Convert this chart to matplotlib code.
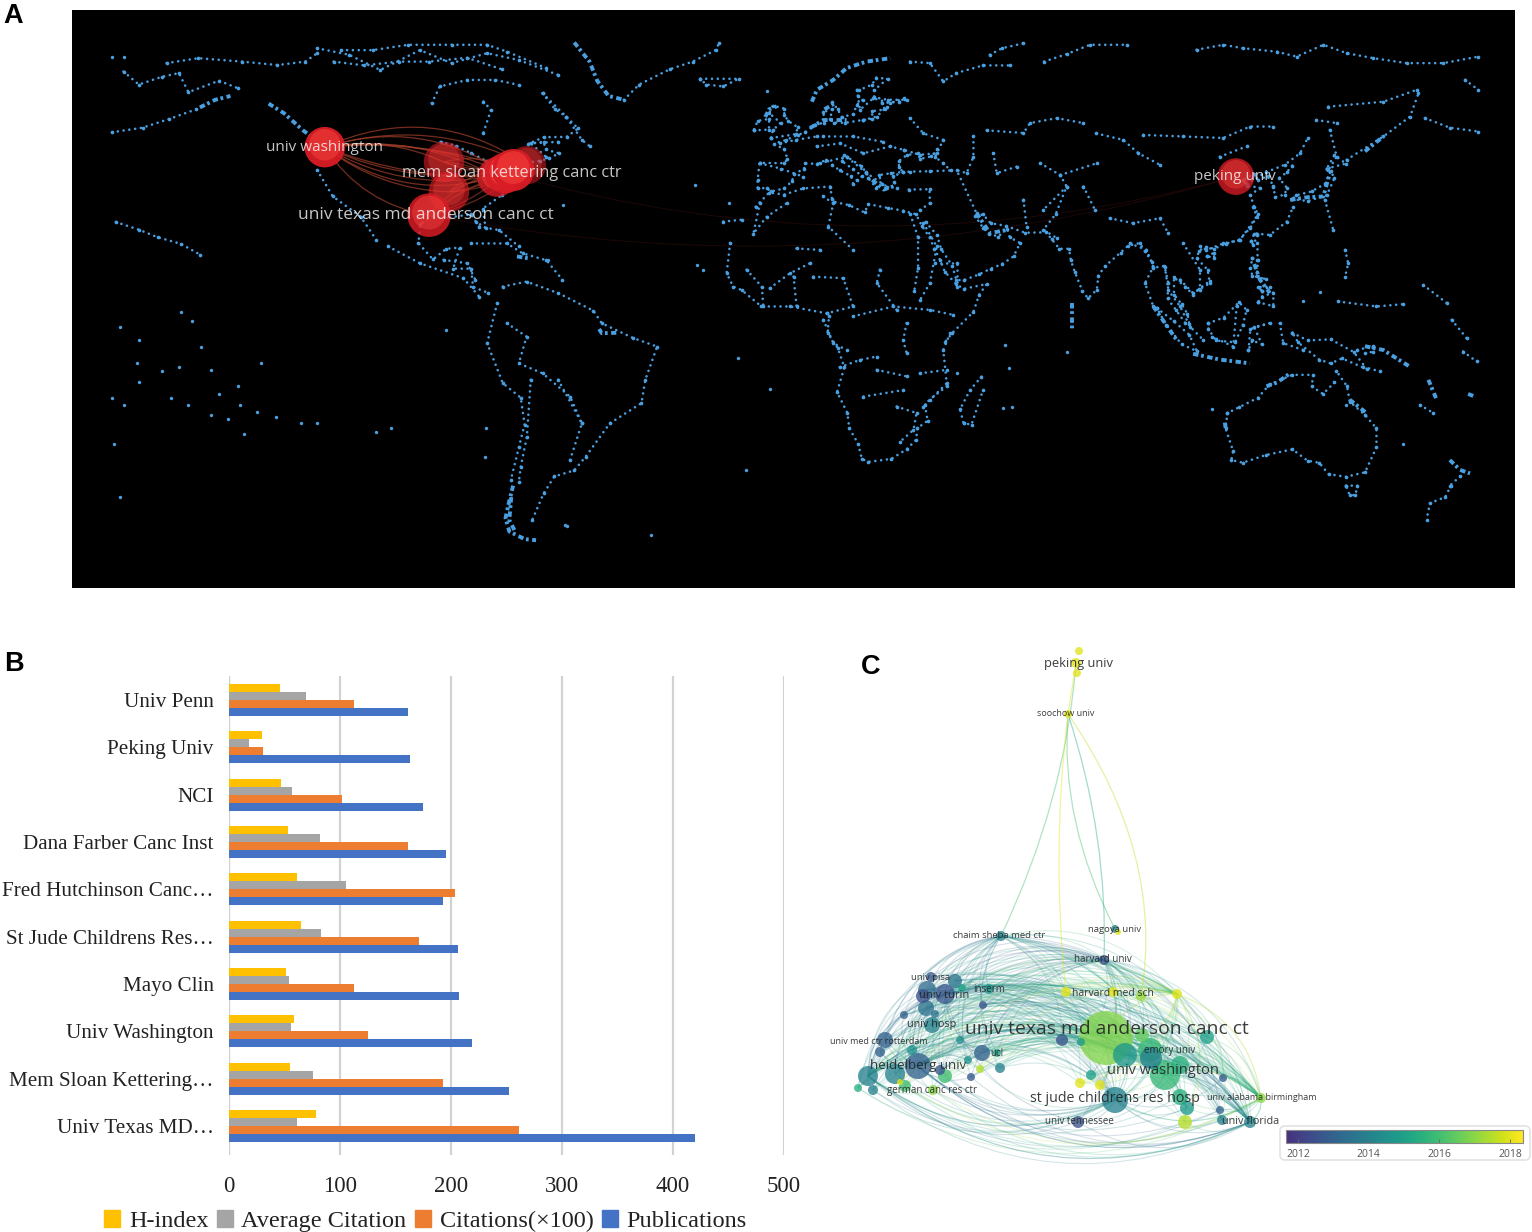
import numpy as np
import matplotlib
matplotlib.use("Agg")
import matplotlib.pyplot as plt
from matplotlib.patches import Circle, PathPatch, Rectangle, FancyBboxPatch
from matplotlib.path import Path
from matplotlib.cm import ScalarMappable
from matplotlib.colors import Normalize, LinearSegmentedColormap

W, H = 1532, 1232

# ---------- panel B data ----------
institutions = ["Univ Texas MD…", "Mem Sloan Kettering…", "Univ Washington", "Mayo Clin",
                "St Jude Childrens Res…", "Fred Hutchinson Canc…", "Dana Farber Canc Inst",
                "NCI", "Peking Univ", "Univ Penn"]
publications = [420, 252, 219, 207.5, 206.5, 193, 195.5, 174.5, 163, 161]
citations = [261, 193, 125, 113, 171, 204, 161, 102, 31, 113]
avg_citation = [61, 76, 56, 54, 83, 105.5, 82, 57, 18, 69.5]
h_index = [78, 55, 59, 51, 65, 61, 53, 46.5, 29.5, 45.5]

# ---------- panel A data (lon, lat) ----------
coast_north_america = [(-65.3,61.7),(-62,57.5),(-59.1,55.6),(-56,52.5),(-59,50.3),(-65,50.2),(-69,48.5),(-65,49),(-64.5,47),(-61,46),(-63.5,44.7),(-66,44),(-70,43.5),(-74,40.7),(-76,35),(-81,31.5),(-80.2,26.5),(-82.7,28),(-84,30),(-90,29.2),(-94,29.5),(-97.3,27.5),(-97.8,22.5),(-94,18.2),(-90.5,21),(-87,21.3),(-88.7,15.8),(-84,15.8),(-83.5,11),(-79.6,9.5)]
coast_south_east = [(-75.7,11.1),(-69.5,12.4),(-61.2,9.4),(-52,4.8),(-49.8,1.5),(-41.5,-2.4),(-35.3,-4.6),(-38.4,-13.3),(-39.4,-19.4),(-47.7,-24.7),(-54,-33.4),(-57,-37),(-62.2,-38.6),(-65,-43),(-68,-50)]
coast_south_west = [(-77.2,6.7),(-79.8,-3.7),(-75.7,-14.2),(-71,-18),(-70,-25),(-71.5,-31),(-73.6,-39.5)]
coast_europe = [(10.5,59.3),(12,57.5),(13,55.5),(16,56.2),(17,58.7),(18.5,60),(17.3,61),(17.5,62.5),(21,64),(22,65.8),(25,65.5),(21.5,62.5),(21.5,60.7),(25,60),(30,60),(28,59.5),(23.5,59.2),(24.3,57.5),(21,57),(21,55),(18.5,54.7),(14,54),(11,54),(10,55),(10.5,57.5),(8.2,56.8),(8.5,54),(6,53.5),(3.5,51.5),(1.5,50.8),(-1.5,49.5),(-4.7,48.5),(-2,47),(-1.2,44.5),(-2,43.4),(-8.5,43.5),(-9,39),(-9,37),(-6.5,36.8),(-5.5,36),(-2,36.8),(0,38.7),(0.5,40.5),(3.2,42),(3.5,43.4),(6.5,43.2),(9,44.3),(10.5,43),(12.5,41.5),(15.5,40),(16,38),(17,39),(18.4,40),(16,41.8),(13,44),(13.5,45.6),(14.5,45),(18,42.7),(19.5,41),(20,39.5),(22,37),(23.5,38),(22.8,40.3),(26,40.8),(29,41.1),(28,42.5),(28,44),(30,45.5),(33,46),(33.5,44.5),(36.5,45.2),(38,47),(37.5,45),(39.5,43.5),(41.5,41.5),(36,41.3),(31,41.2),(29,41),(26.5,40),(26.8,38.5),(27.5,37)]
coast_africa_n = [(-9.5,32),(-6,35.7),(-2,35.2),(3,36.8),(10,37.3),(10.5,34),(11,33.3),(15,32.4),(19,30.5),(20,32.7),(25,31.7),(29,31),(32.5,30),(34,27),(36,24),(37.3,21),(38.8,18),(40,15),(43,11.7),(45,10.5),(51,11.8),(49,9),(47.5,4.5),(42,-1),(40,-3.5)]
coast_africa_sw = [(40.5,-15),(36,-18.5),(34.8,-20),(35.5,-24),(32.8,-26),(32.5,-29),(30,-31.5),(26,-34),(20,-34.8),(18.3,-34),(17.3,-30),(15,-26),(14.5,-22),(11.8,-16.5),(13.7,-10),(12,-5),(9.3,-1),(9.7,3.5)]
coast_asia_south = [(35,28),(38,24.5),(39,21),(42,16.5),(43,12.8),(45,12.8),(49,14.3),(52,15.8),(55,17),(58,19),(59.7,22.5),(57,24),(56.3,26.3),(54,24.2),(51.5,25),(50,26.5),(48,29.5),(50,30),(52,27.7),(56,27),(61,25.2),(66.5,25.3),(68,23.5),(70,21),(72.5,21),(73,18),(74,15),(76,10),(77.5,8),(79.8,10.3),(80.2,14),(82,16.5),(86,20),(88,21.8),(91,22.5),(92.3,20.5),(94.3,17.5),(94.5,16),(97.5,16.5),(98.5,12),(98.3,8),(100.5,5),(103,1.5),(104,1.4),(103.5,4),(102,6.5),(100,9),(100,13.5),(103,11),(105,9),(106.5,10.5),(109.3,12.5),(108.8,15.5),(106,18.5),(106.5,20.5),(108.5,21.5),(110.5,21),(113.5,22.3),(117,23.3),(120,26.5),(122,30),(121,32),(120,35),(122.5,37),(119,37.5),(118,39),(121,40.5),(122,39),(124.5,40),(126,37.5)]
coast_borneo = [(109,1.5),(113,3),(117,7),(119,5),(118,1),(116,-3.5),(111,-3),(109,0),(109,1.5)]
coast_sumatra = [(95.5,5.5),(100,2),(104,-1.5),(106,-5.8),(102,-4),(98,1),(95.5,5.5)]
coast_sulawesi = [(119.5,-5.5),(120,0),(125,1.5),(121,0.5),(123,-4),(120.5,-3),(119.5,-5.5)]
coast_new_guinea = [(131,-1),(135,-3),(141,-2.7),(147,-6),(150.5,-10.5),(144,-7.7),(141,-9),(138,-8),(132.5,-3.5),(131,-1)]
coast_new_britain = [(148,-5.5),(152,-4.5),(152,-6),(150,-6.2)]
coast_luzon = [(120.5,18.5),(122,18),(121.7,14),(124,13),(120.5,14),(120,16),(120.5,18.5)]
coast_mindanao = [(122,7),(126,6),(126,9.5),(123,8.5),(122,7)]
coast_visayas = [(123,10),(125,11),(122,11),(123,10)]
coast_honshu = [(130.9,34),(135,33.5),(140,35),(142,39.5),(141,41.3),(139.5,38),(136,36),(132,35),(130.9,34)]
coast_hokkaido = [(140,42),(145,43.3),(142,45.5),(140,42)]
coast_taiwan = [(120.2,23),(121,25),(121.8,24.5),(120.8,22),(120.2,23)]
coast_hainan = [(108.7,19),(110.5,20),(110.5,18.7),(108.7,19)]
chain_andes = [(-68.4,-13.3),(-69.4,-28.2),(-71,-36),(-71.5,-40)]
chain_sa_interior = [(-74.6,1.5),(-69.5,-2),(-71.5,-9),(-65.3,-11.6),(-58.1,-17.7),(-55,-24.7),(-58.1,-34.3)]
chain_sa_mid = [(-61.2,-13.3),(-55,-24.7)]
chain_arctic_a = [(-124.3,73.5),(-116,71.8),(-107.8,67.8),(-97.4,73),(-89.1,69.6),(-79.8,72.2),(-71.5,70.4),(-61.2,66.5)]
chain_arctic_b = [(-118,73),(-109.8,73),(-100.5,74.4),(-89.1,74.4),(-79.8,74.4),(-74.6,72.6),(-64.3,68.3)]
chain_arctic_c = [(-120,70),(-112,69),(-103,70),(-95,70),(-85,71),(-76,68)]
chain_hudson = [(-94.3,59.1),(-92.2,63.5),(-85,65.2),(-77.7,65.2),(-71.5,63.9)]
chain_james = [(-80.8,59.5),(-78.8,57.4),(-80.8,51.3)]
chain_labrador = [(-65.3,61.7),(-59.1,55.6),(-55,49.5),(-52.9,47.8)]
chain_maritime = [(-61.2,49),(-68.4,48.6),(-64.3,45)]
chain_lakes = [(-92,49),(-88,48),(-84,46),(-80,44)]
chain_pacific_us = [(-124.3,41.6),(-120.2,34.7),(-112.9,29.4),(-108.8,23.3)]
chain_meso = [(-105.7,21.6),(-97.4,17.2),(-86,13.3),(-81.9,8.5)]
chain_mexico = [(-91.2,18.1),(-85,17.2),(-82.9,12.9)]
chain_cuba = [(-84,22.4),(-74.6,22.4),(-70.5,19.8),(-64.3,18),(-60.1,12.9)]
chain_bahamas = [(-81.9,26.8),(-76.7,25.9),(-71.5,21.6)]
chain_alaska_n = [(-163.7,69.6),(-155.4,70.9),(-144,70),(-134.7,69.1),(-127.4,70),(-124.3,72.2)]
chain_alaska_in = [(-175,67.4),(-171,64),(-165,66),(-160.5,67),(-158,62),(-150,65),(-145,63)]
chain_aleutian = [(-178,51.5),(-170,52.7),(-163,55),(-156,57.5)]
chain_hawaii = [(-177,28),(-171,26),(-166,24),(-160,22.3),(-155,19.5)]
chain_greenland_se = [(-44,60),(-40,64),(-32,68),(-26,70),(-20,73),(-19,75)]
chain_iceland = [(-24,65.5),(-14,65.5),(-18,63.5),(-22.5,64),(-24,65.5)]
chain_eu_a = [(6.5,47.8),(12.6,48.6),(18.7,46),(25.7,47.8),(29.2,46.9)]
chain_eu_b = [(7.3,43.4),(14.3,45.1),(19.5,40.8),(24.8,37.3)]
chain_eu_c = [(8.2,50.4),(16,50.4),(23.9,49)]
chain_eu_d = [(17,62.6),(17.8,57.4),(21.3,60.4),(25.7,59.1),(29.2,60.4)]
chain_eu_e = [(18.7,54.7),(22.2,55.6),(24.8,58.2)]
chain_black_sea = [(30.9,55.2),(34.4,51.2),(39.6,49.5),(37.9,46),(33.5,45.6),(29.2,46.9)]
chain_white_sea = [(30.9,70),(36.1,69.6),(39.6,64.8),(43,67),(50,69),(57,69)]
chain_novaya = [(51.8,71.8),(55,73.5),(60.6,74.8)]
chain_spain = [(-8.4,43.4),(-3,42),(2.9,39.9)]
chain_france = [(-3.1,48.6),(1,49.5),(6.5,50.4)]
chain_uk = [(-5.5,50),(1,51),(1.5,52.8),(-1,54.5),(-2,56),(-2,57.7),(-5,58.5),(-6,56.5),(-3,54),(-5,52),(-5.5,50)]
chain_ireland = [(-10,52),(-6,52.2),(-6,55),(-9,54.5),(-10,52)]
chain_maghreb = [(8.2,34.7),(10.8,32.9),(9.5,26.8),(16,20.7)]
chain_sahara = [(1.2,21.1),(7.3,20.7)]
chain_morocco = [(-8.4,33),(-10.1,25),(-6.6,29.4),(-1.4,32.9)]
chain_canary = [(-18,28.1),(-13.2,28.6)]
chain_w_africa_coast = [(-16.2,22.5),(-17.1,14.6),(-15.4,11.1),(-13.2,10.2),(-8,5.9),(-0.5,5.9),(9.1,4.1)]
chain_w_africa_a = [(-11.9,15.5),(-7.9,11.1),(-7.5,5.9)]
chain_w_africa_b = [(-5.8,10.7),(-0.5,14.6),(4.7,17.2)]
chain_w_africa_c = [(0.4,13.7),(1.2,5.9)]
chain_w_africa_d = [(5.6,13.7),(13.4,13.3),(16,5.9),(9.1,4.1)]
chain_sudan = [(23,15.5),(22.2,12),(27.4,5)]
chain_equator = [(16,3.3),(26.5,5.9),(36.1,5),(42.2,3.7)]
chain_congo = [(8.2,2.4),(10.8,-3.7),(14.3,-5.5)]
chain_kivu = [(30,1.5),(29.1,-2.9),(30,-6.3)]
chain_e_africa = [(41.4,-1.1),(39.6,-5.5),(40.5,-14.2),(34.4,-20.3)]
chain_zambia = [(22.2,-10.7),(30,-12.4)]
chain_malawi = [(33.5,-11.6),(40.5,-10.7)]
chain_angola = [(12.5,-10),(17.8,-8.1),(22.2,-7.2)]
chain_zimbabwe = [(18.7,-17.7),(29.1,-16)]
chain_limpopo = [(27.4,-20.3),(32.6,-22),(31.8,-26.4),(28.3,-29.5)]
chain_madagascar = [(49.6,-12.5),(46.6,-16),(44,-21),(44.9,-24.7),(47,-25),(50,-16)]
chain_red_sea = [(34.4,27.7),(37.9,21.6),(36.1,12),(33.5,7.6)]
chain_nile = [(31,30),(33,24),(33,16),(32,10)]
chain_yemen = [(37.4,17.2),(43.1,17.2),(43.1,11.1)]
chain_levant = [(33.5,31.2),(36.1,32.9),(36,36.6),(30.5,36.5)]
chain_caucasus = [(47.5,50.4),(47.5,45.1),(45.7,40.8),(43.1,41.6),(48.3,30.3)]
chain_urals = [(51,52),(60.6,51.3),(62.3,53.9),(69.3,55.2),(76.3,53.9)]
chain_aral = [(52.7,46),(53.6,40.8),(58.8,42.5)]
chain_asia_hub = [(65,43.4),(70.2,40.3),(79.8,43.4)]
chain_hub_a = [(71.9,37.3),(65.8,31.2)]
chain_hub_b = [(60.6,33.8),(61.4,26.8)]
chain_hub_c = [(76.3,37.3),(79.3,31.2)]
chain_hub_d = [(70.2,40.3),(71.9,37.3),(69,30),(65.8,26),(69.3,23.8)]
chain_siberia = [(79.7,51.2),(86.7,49.5),(90.7,46),(96.3,43)]
chain_baikal = [(92,50.8),(102.4,50.4),(112.9,50),(119.9,53),(126,53)]
chain_mongolia = [(112,45.1),(119,47.8)]
chain_korea = [(126,37.3),(126.5,34.5),(129,35.2),(129.5,37),(127.5,39.5),(129.5,41),(131,42.8)]
chain_manchuria = [(119,38),(124,41),(129,43),(133,46),(135,50)]
chain_china_coast = [(120.8,32),(121.6,29.4),(117.3,23.3),(112.9,22.4),(108.5,20.7),(106.8,21.6)]
chain_ryukyu = [(121.6,25),(125.1,24.6),(129.5,28.1),(131.2,32)]
chain_luzon_str = [(121.6,22.4),(121.6,18)]
chain_bonin = [(139.5,33.8),(141.7,25.9)]
chain_marianas = [(144.8,20.7),(145.6,17.2),(144.8,13.7)]
chain_okhotsk = [(140.4,58.2),(154.8,59.5),(163.5,62.6)]
chain_amur = [(137.3,54.7),(142.6,53.9)]
chain_sakhalin = [(140.8,52.1),(142.6,45.1),(140.4,41.6)]
chain_kamchatka = [(145.2,44.3),(154.8,50.4),(161.8,55.6),(164,61.7)]
chain_chukotka = [(176.2,65.2),(179.7,62.6)]
chain_commander = [(165.7,55.2),(172.2,52.7),(179.7,51.7)]
chain_siberia_n = [(105.9,73.1),(112.9,74.4),(118.1,73.5),(126.9,72.6),(132.1,71.3),(139.1,74.4),(145.2,72.2),(152.2,70.9),(160.9,69.6),(170.5,69.6),(179.7,71.3)]
chain_yamal = [(66,70),(72,72),(78,74.4),(87.6,74.4)]
chain_himalaya = [(83.2,29),(89.3,27.7),(96.3,29),(98.5,25.1)]
chain_burma = [(88.5,22.4),(92.8,20.7),(94.6,16.3),(92.4,12),(94.6,5.9)]
chain_malay = [(97.6,16.3),(98.5,10.2),(101.6,5.9),(104.2,0.6),(107.7,-2.9)]
chain_thai = [(102.4,22.4),(106.8,15.5),(106.8,10.2)]
chain_mekong = [(101.6,12.9),(105,9.4),(109.4,12)]
chain_borneo_e = [(116.4,5.9),(115.5,-4.6),(110,-2)]
chain_maluku = [(127.7,1.5),(128.6,-3.7),(133.8,-5.5)]
chain_louisiade = [(149.6,-9.9),(153.9,-11.1)]
chain_nc = [(164.4,-19.9),(167.9,-22)]
chain_kiribati = [(172.7,2.4),(176.6,-2.4)]
chain_tuvalu = [(175.7,-5.9),(179.2,-8.5)]
chain_marshall = [(165.3,11.5),(171.4,6.8)]
chain_carolines = [(143,7.2),(153,5.9),(160,6.5)]
coast_australia = [(114,-22),(113.5,-26),(115.5,-32),(115,-34.3),(118,-35),(124,-33),(131,-31.5),(135,-34.5),(138,-35),(140.5,-38),(145,-38.7),(150,-37.5),(153,-31),(153,-26),(150,-22.5),(146,-19),(145.3,-15),(142.5,-11)]
coast_australia_n = [(142,-14),(139,-17),(136,-15),(136.5,-12),(131,-12),(125,-14.5),(122,-18),(117,-20.5),(114,-22)]
chain_tasmania = [(145,-41),(148,-41),(147.5,-43.5),(146,-43.5),(145,-41)]
chain_nz_s = [(172.5,-41),(171,-44),(167,-45.6),(166.1,-50)]
chain_nz_n = [(174.9,-38.6),(172.2,-41)]

thick_greenland = [(-57,75),(-53,70),(-51,65),(-48,61),(-44,60)]
thick_alaska_a = [(-155,58),(-151,60),(-147,61)]
thick_alaska_b = [(-137,59),(-133,56.5),(-128,52),(-126,50.5)]
thick_chile = [(-73,-41),(-74,-45),(-75,-49.5),(-74,-53),(-70,-55),(-67,-55.3)]
thick_chile_b = [(-73.5,-44),(-74,-50),(-72.5,-53)]
thick_norway = [(5.2,59.5),(6.5,62.6),(10.8,65.2),(14.3,68.3),(19.5,70),(25.7,70.9)]
thick_german = [(4.7,52.6),(8.2,54.7),(14.3,54.7)]
thick_skagerrak = [(8.5,57.5),(11,59)]
thick_scotland = [(-7,55.5),(-6,57.5),(-4,58.3)]
thick_aegean = [(21,39),(24,36.5),(27,37.5)]
thick_gulf = [(48.3,30.3),(51.8,25.1),(56.2,25.9)]
thick_philippines = [(121,17),(122.5,12.9),(125.1,9.4)]
thick_japan = [(130.4,33.8),(135,34.5),(139.1,34.7),(140.8,40.8)]
thick_kuril = [(150,46.5),(154.8,50.4)]
thick_java = [(105,-6.5),(112,-8),(119.9,-9)]
thick_sumatra = [(94.6,5.9),(100.7,-2.9)]
thick_solomon = [(150,-4.5),(154.8,-5.5),(161.8,-9.9)]
thick_maldives = [(73.2,6.7),(73.2,-0.2)]
thick_vanuatu = [(166.6,-13.3),(168.8,-18.6)]
thick_fiji = [(177,-17),(179,-17.8)]
thick_nz = [(172.2,-34.3),(174.9,-36.9),(177.5,-37.8)]
thick_queensland = [(146,-18.5),(150.4,-22)]
thick_darwin = [(124.2,-15),(127,-14),(130.4,-11.6)]
thick_shark = [(113.3,-24.5),(113.6,-26.5)]
thick_brazil_n = [(-50.5,0),(-49.8,-1.1),(-46,-1)]
thick_hispaniola = [(-72,19),(-69,18.5)]

pacific_lon = [-176,-171,-171.5,-165,-160.5,-160,-157,-154.7,-152,-139,-171,-178,-175,-162.5,-158,-150,-145,-144.5,-152,-147.6,-140,-135,-128.5,-124.4,-109,-105,-143.5,-177.6,-176,-80,-80.4,-90.5,-59,-59.5,-37,-178,-175,
               -25,-23.2,-25.4,-16.5,-14.2,-5.8,-12.1,55.8,56.7,55.3,57.5,44.9,43.1,133.8,138.2,71.9,-6.6,110,-60,-64,145,160]
pacific_lat = [0.5,-3,-9,-11,-10,4.5,2,-4.7,-10.7,-9,-14,-18,-20,-18,-20,-17,-15,-20,-22.5,-23.6,-21.7,-23,-24.6,-24.5,-27,-26,-27.5,-30,-44,-26,-33.5,-0.3,-51.7,-51.2,-54,71.3,71.3,
               16.8,15.5,37.7,33,-7.7,-15.8,-36.9,-4.2,-10.3,-20.7,-20.3,-24.7,-11.6,7.2,9.8,-5.9,62.2,-21,32.5,18,-20,-30]

# bubbles
bubble_lon = [-122.3, -91.1, -89.8, -95.0, -69.4, -77.2, -75.1, -73.0, 116.2]
bubble_lat = [47.6, 43.7, 35.9, 29.8, 42.9, 39.8, 40.8, 41.6, 39.9]
bubble_r = [5.3, 5.3, 5.3, 5.7, 5.0, 5.2, 5.3, 5.5, 4.8]
bubble_a = [.95, .6, .65, .85, .55, .8, .9, .95, .78]

# ---------- panel C data (layout position, year) ----------
net_x = [1076,1079,1077,1068,1001,1115,1118,1104,931,955,989,927,945,923,962,983,926,935,904,1066,1113,1141,1177,
         1106,1125,1150,1151,1165,1180,1142,1207,1062,1081,1091,1080,1100,1115,1187,1185,1220,1223,1261,1250,1222,1078,1180,
         885,932,918,895,868,940,945,982,997,1000,980,971,858,873,933,900,905,960,880,912,968]
net_y = [663,651,673,714,936,929,932,960,977,981,989,990,994,996,988,1005,1008,1014,1015,992,992,996,994,
         1038,1055,1050,1058,1075,1065,1035,1037,1040,1042,1075,1083,1085,1100,1108,1122,1110,1078,1098,1122,1120,1122,1097,
         1040,1025,1066,1074,1076,1070,1076,1053,1053,1068,1069,1077,1088,1090,1090,1082,1086,1040,1052,1050,1060]
net_r = [5,4,4,4,5,4,3,5,5,7,5,9,10,7,4,4,8,4,4,5,5,5,5,
         27,12,12,11,15,9,7,7,6,4,5,5,5,13,7,7,4,4,5,6,5,6,8,
         8,8,13,10,10,5,7,8,4,5,4,4,4,5,5,3,6,4,5,5,4]
net_year = [2018,2018,2018,2018,2014,2014,2018,2012.6,2012.8,2013.6,2014.6,2013.3,2012.7,2012.5,2015,2012.6,2013.5,2013.6,2013,2018,2018,2017.2,2018,
            2016.9,2014.7,2015.8,2014,2015.8,2015.5,2016.5,2015,2012.7,2014.8,2015,2018,2018,2014,2014.8,2017.5,2013,2012.8,2017,2014,2014,2012.6,2015.5,
            2013,2014,2013,2014,2014,2012.7,2016,2013,2015,2014,2017.5,2012.8,2015.5,2014,2017,2018,2016,2014.5,2013,2014.5,2014.5]
net_hubs = [23, 24, 27, 36, 48, 50, 12, 4, 7, 22, 41, 42]
net_far = [(3,5,-20),(3,21,38),(0,4,17),(3,19,-10),(0,3,0),(3,7,14)]
net_labels = ["peking univ","soochow univ","chaim sheba med ctr","nagoya univ","harvard univ","univ pisa","univ turin","inserm",
              "harvard med sch","univ hosp","univ texas md anderson canc ct","univ med ctr rotterdam","emory univ","ucl","heidelberg univ",
              "univ washington","german canc res ctr","st jude childrens res hosp","univ alabama birmingham","univ tennessee","univ florida"]
label_x = [1078,1066,999,1115,1103,931,944,989,1113,932,1107,879,1170,997,918,1163,932,1115,1262,1079,1251]
label_y = [664,714,936,929,960,977,995,989,993,1025,1029,1042,1050,1054,1065,1071,1091,1098,1097,1122,1121]
label_size = [9.3,6.5,6.8,6.8,7,6.8,8,7,7.5,7.8,13.9,6.5,7,7,9.5,10.5,7,10.3,6.5,7,7.8]

year_ticks = [2012, 2014, 2016, 2018]
legend_names = ["H-index", "Average Citation", "Citations(×100)", "Publications"]
bar_colors = ["#FFC000", "#A5A5A5", "#ED7D31", "#4472C4"]
GRID = "#d2d2d2"
MAP_BLUE = "#4a9fe0"
SANS = ["Open Sans", "DejaVu Sans"]
SERIF = ["Liberation Serif", "DejaVu Serif"]

fig = plt.figure(figsize=(W/100, H/100), dpi=100, facecolor="white")

def axes_px(x0, y0, x1, y1, **kw):
    return fig.add_axes([x0/W, 1-y1/H, (x1-x0)/W, (y1-y0)/H], **kw)

# ================= panel A =================
S = 3.82
ax = axes_px(72, 10, 1515, 588, facecolor="black")
ax.set_xlim((72-792)/S, (1515-792)/S)
ax.set_ylim((329-588)/S, (329-10)/S)
ax.set_xticks([]); ax.set_yticks([])
for s in ax.spines.values():
    s.set_visible(False)

dotted = [v for k, v in list(globals().items()) if k.startswith(("chain_", "coast_"))]
thick = [v for k, v in list(globals().items()) if k.startswith("thick_")]
for c in dotted:
    a = np.array(c, float)
    ax.plot(a[:, 0], a[:, 1], color=MAP_BLUE, lw=1.9, ls=(0, (0.01, 2.2)), dash_capstyle="round", zorder=2)
    ax.scatter(a[:, 0], a[:, 1], s=7, color=MAP_BLUE, lw=0, zorder=2)
for c in thick:
    a = np.array(c, float)
    ax.plot(a[:, 0], a[:, 1], color=MAP_BLUE, lw=2.8, ls=(0, (1.4, 0.7, 0.7, 0.9)), dash_capstyle="butt", zorder=2)
ax.scatter(pacific_lon, pacific_lat, s=6, color=MAP_BLUE, lw=0, zorder=2)

def arc(axx, p, q, bulge, **kw):
    mx, my = (p[0]+q[0])/2, (p[1]+q[1])/2
    dx, dy = q[0]-p[0], q[1]-p[1]
    c = (mx - dy*bulge, my + dx*bulge)
    axx.add_patch(PathPatch(Path([p, c, q], [Path.MOVETO, Path.CURVE3, Path.CURVE3]), fc="none", **kw))

pts = list(zip(bubble_lon, bubble_lat))
for j, b in [(1,.16),(4,.2),(5,.17),(6,.14),(7,.11),(4,.28),(6,.24),(5,-.1),(2,-.16),(3,-.22),(6,-.2),(7,-.16),(5,-.24)]:
    arc(ax, pts[0], pts[j], b, ec="#a5402a", lw=0.9, alpha=.7, zorder=3)
for i in (1, 2, 3):
    for j, b in ((5, .1), (6, -.12), (7, .2), (4, -.15)):
        arc(ax, pts[i], pts[j], b, ec="#a5402a", lw=0.9, alpha=.6, zorder=3)
for j, b in ((3, .12), (6, .14)):
    arc(ax, pts[8], pts[j], b, ec="#3a0f0c", lw=0.7, alpha=.5, zorder=1.5)

for lo, la, r, al in zip(bubble_lon, bubble_lat, bubble_r, bubble_a):
    ax.add_patch(Circle((lo, la), r, fc=(.85, .11, .15, al), ec="none", zorder=4))
    ax.add_patch(Circle((lo, la+r*.12), r*.78, fc=(1, .3, .26, al*.45), ec="none", zorder=4))

map_labels = ["univ washington", "mem sloan kettering canc ctr", "univ texas md anderson canc ct", "peking univ"]
map_label_lon = [-137.7, -102.1, -129.3, 105.2]
map_label_lat = [47.6, 40.8, 29.9, 39.9]
map_label_size = [11, 11.7, 12.5, 11]
for t, lo, la, fs in zip(map_labels, map_label_lon, map_label_lat, map_label_size):
    ax.text(lo, la, t, color="white", alpha=.78, fontsize=fs, family=SANS, ha="left", va="center", zorder=6)

# ================= panel B =================
bx = axes_px(229, 676, 784, 1155)
y = np.arange(len(institutions), dtype=float)
h = 0.169
bx.barh(y-1.5*h, publications, h, color=bar_colors[3], zorder=3)
bx.barh(y-0.5*h, citations, h, color=bar_colors[2], zorder=3)
bx.barh(y+0.5*h, avg_citation, h, color=bar_colors[1], zorder=3)
bx.barh(y+1.5*h, h_index, h, color=bar_colors[0], zorder=3)
bx.set_xlim(0, 500)
bx.set_ylim(-0.61, 9.51)
bx.set_yticks(y, institutions, family=SERIF, fontsize=15.2, color="#222222")
bx.set_xticks([0, 100, 200, 300, 400, 500])
bx.tick_params(axis="x", length=0, pad=15, labelsize=16.5, labelcolor="#222222")
bx.tick_params(axis="y", length=0, pad=11)
for lab in bx.get_xticklabels():
    lab.set_family(SERIF)
bx.grid(axis="x", color=GRID, lw=1.6, zorder=0)
for s in bx.spines.values():
    s.set_visible(False)
bx.axvline(0, color=GRID, lw=1.6, zorder=1)
bx.set_axisbelow(True)

handles = [Rectangle((0, 0), 1, 1, color=c) for c in bar_colors]
leg = fig.legend(handles, legend_names, ncol=4, frameon=False, loc="center left",
                 bbox_to_anchor=(104/W, 1-1221/H), prop={"family": SERIF, "size": 17.5},
                 handlelength=0.66, handleheight=0.66, handletextpad=0.36, columnspacing=0.34,
                 borderpad=0, borderaxespad=0, labelcolor="#222222")

# ================= panel C =================
nx = axes_px(820, 640, 1532, 1175)
nx.set_xlim(820, 1532); nx.set_ylim(1175, 640); nx.axis("off")
cmap = LinearSegmentedColormap.from_list("vv", matplotlib.colormaps["viridis"](np.linspace(.14, 1, 64)))
norm = Normalize(2011.66, 2018.37)
CX, CY = 1060, 1085
n = len(net_x)
for hi, hub in enumerate(net_hubs):
    for k in range(8, n):
        if k == hub or (k + hi) % 3 == 0:
            continue
        p = (net_x[hub], net_y[hub]); q = (net_x[k], net_y[k])
        d = np.hypot(q[0]-p[0], q[1]-p[1])
        if d < 5:
            continue
        mx, my = (p[0]+q[0])/2, (p[1]+q[1])/2
        px_, py_ = -(q[1]-p[1])/d, (q[0]-p[0])/d
        sign = 1 if (mx-CX)*px_ + (my-CY)*py_ >= 0 else -1
        cx, cy = mx+sign*px_*d*.3, my+sign*py_*d*.3
        col = cmap(norm((net_year[hub]+net_year[k])/2))
        nx.add_patch(PathPatch(Path([p, (cx, cy), q], [Path.MOVETO, Path.CURVE3, Path.CURVE3]),
                               fc="none", ec=col, lw=.8, alpha=.2, zorder=1))
for a, b, bend in net_far:
    p = (net_x[a], net_y[a]); q = (net_x[b], net_y[b])
    mx, my = (p[0]+q[0])/2, (p[1]+q[1])/2
    col = cmap(norm((net_year[a]+net_year[b])/2))
    nx.add_patch(PathPatch(Path([p, (mx+bend*1.6, my), q], [Path.MOVETO, Path.CURVE3, Path.CURVE3]),
                           fc="none", ec=col, lw=.9, alpha=.42, zorder=1))
order = np.argsort(net_r)[::-1]
for i in order:
    nx.add_patch(Circle((net_x[i], net_y[i]), net_r[i], fc=cmap(norm(net_year[i])), ec="none", alpha=.78, zorder=2))
for t, xx, yy, fs in zip(net_labels, label_x, label_y, label_size):
    nx.text(xx, yy, t, fontsize=fs, family=SANS, color="#222222", alpha=.88, ha="center", va="center", zorder=3)

nx.add_patch(FancyBboxPatch((1283, 1129), 244, 28, boxstyle="round,pad=3,rounding_size=5", fc="white",
                            ec="#e3e3e3", lw=1.2, zorder=4))
cax = axes_px(1286, 1130, 1523, 1143)
cb = fig.colorbar(ScalarMappable(norm=norm, cmap=cmap), cax=cax, orientation="horizontal", ticks=year_ticks)
cb.outline.set_edgecolor("#888888"); cb.outline.set_linewidth(.8)
cax.tick_params(axis="x", direction="in", length=3, width=.6, color="#666666", labelsize=7.5, labelcolor="#555555", pad=4)
for lab in cax.get_xticklabels():
    lab.set_family(SANS)

# panel letters
for t, px, py in [("A", 3, 16), ("B", 4, 664), ("C", 861, 667)]:
    fig.text(px/W, 1-py/H, t, fontsize=19.5, fontweight="bold", family=["Liberation Sans", "DejaVu Sans"],
             ha="left", va="center", color="black")

fig.savefig("out.png", dpi=100, facecolor="white")
